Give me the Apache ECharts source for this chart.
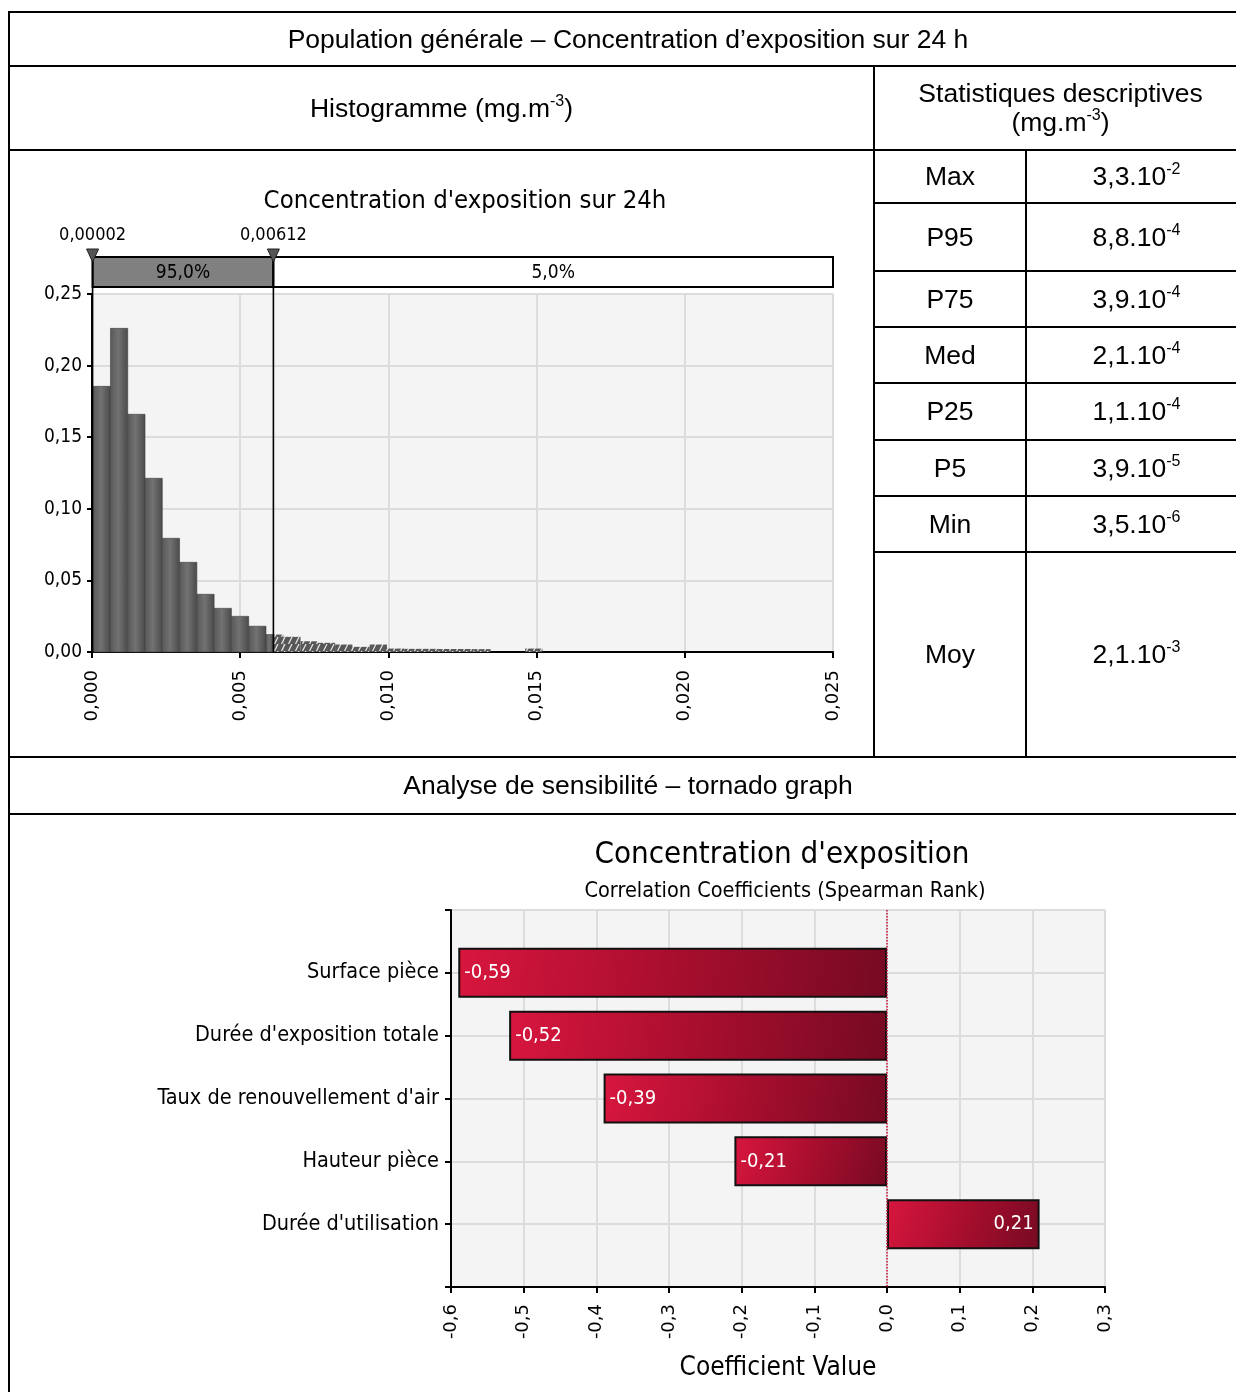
<!DOCTYPE html>
<html><head><meta charset="utf-8">
<script src="https://cdn.jsdelivr.net/npm/echarts@6/dist/echarts.min.js"></script>
<style>
html,body{margin:0;padding:0;background:#fff;}
#page{position:relative;width:1236px;height:1392px;overflow:hidden;font-family:'Liberation Sans',Arial,sans-serif;color:#000;}
#chart{position:absolute;left:0;top:0;width:1236px;height:1392px;}
.hl{position:absolute;height:2px;background:#000;}
.vl{position:absolute;width:2px;background:#000;}
.cell{position:absolute;display:flex;flex-direction:column;align-items:center;justify-content:center;text-align:center;font-size:26.5px;line-height:29px;white-space:nowrap;}
sup{font-size:16px;line-height:0;vertical-align:0;position:relative;top:-11px;}
</style></head>
<body><div id="page"><div id="chart"></div><div id="table"></div></div>
<script>
// ---------------- data ----------------
const pageTitle = 'Population générale – Concentration d’exposition sur 24 h';
const histHeader = 'Histogramme (mg.m<sup>-3</sup>)';
const statsHeader = ['Statistiques descriptives', '(mg.m<sup>-3</sup>)'];
const sensHeader = 'Analyse de sensibilité – tornado graph';

const statLabels = ['Max', 'P95', 'P75', 'Med', 'P25', 'P5', 'Min', 'Moy'];
const statMantissa = ['3,3', '8,8', '3,9', '2,1', '1,1', '3,9', '3,5', '2,1'];
const statExponent = ['-2', '-4', '-4', '-4', '-4', '-5', '-6', '-3'];

const histTitle = "Concentration d'exposition sur 24h";
const binStart = 0.00004;
const binWidth = 0.000583;
const binHeights = [0.1855, 0.226, 0.166, 0.1213, 0.0794, 0.0626, 0.0403, 0.0305, 0.0249, 0.018,
  0.0122, 0.0106, 0.0075, 0.0064, 0.0052, 0.0036, 0.0052, 0.0024, 0.0022, 0.0022,
  0.0021, 0.0021, 0.0020, 0, 0, 0.0024];
const markerValues = [0.00002, 0.00612];
const markerLabels = ['0,00002', '0,00612'];
const bandLabels = ['95,0%', '5,0%'];
const histXMax = 0.025, histXStep = 0.005;
const histYMax = 0.25, histYStep = 0.05;

const tornadoTitle = "Concentration d'exposition";
const tornadoSubtitle = 'Correlation Coefficients (Spearman Rank)';
const tornadoAxisName = 'Coefficient Value';
const factors = ['Surface pièce', "Durée d'exposition totale", "Taux de renouvellement d'air", 'Hauteur pièce', "Durée d'utilisation"];
const coefficients = [-0.59, -0.52, -0.39, -0.21, 0.21];
const tornadoMin = -0.6, tornadoMax = 0.3, tornadoStep = 0.1;

// ---------------- table (HTML) ----------------
const T = document.getElementById('table');
function hl(x, y, w) { const d = document.createElement('div'); d.className = 'hl'; d.style.left = x + 'px'; d.style.top = (y - 1) + 'px'; d.style.width = w + 'px'; T.appendChild(d); }
function vl(x, y, h) { const d = document.createElement('div'); d.className = 'vl'; d.style.left = (x - 1) + 'px'; d.style.top = y + 'px'; d.style.height = h + 'px'; T.appendChild(d); }
function cell(x, y, w, h, lines) { const d = document.createElement('div'); d.className = 'cell'; d.style.left = x + 'px'; d.style.top = y + 'px'; d.style.width = w + 'px'; d.style.height = h + 'px'; d.innerHTML = lines.map(s => '<div>' + s + '</div>').join(''); T.appendChild(d); }
[12, 66, 150, 757, 814].forEach(y => hl(8, y, 1250));
const rowEdges = [150, 203, 271, 327, 383, 440, 496, 552, 757];
rowEdges.slice(1, -1).forEach(y => hl(874, y, 380));
vl(9, 11, 1400); vl(874, 66, 691); vl(1026, 150, 607);
cell(9, 12, 1238, 54, [pageTitle]);
cell(9, 66, 865, 84, [histHeader]);
cell(874, 66, 373, 84, statsHeader);
statLabels.forEach((l, i) => {
  const y0 = rowEdges[i], y1 = rowEdges[i + 1];
  cell(874, y0, 152, y1 - y0, [l]);
  cell(1026, y0, 221, y1 - y0, [statMantissa[i] + '.10<sup>' + statExponent[i] + '</sup>']);
});
cell(9, 757, 1238, 57, [sensHeader]);

// ---------------- chart ----------------
const COND = "'DejaVu Sans Condensed','Liberation Sans Narrow',sans-serif";
const WIDE = "'DejaVu Sans',Verdana,sans-serif";
const chart = echarts.init(document.getElementById('chart'));

// hatch pattern
const pc = document.createElement('canvas'); pc.width = 7; pc.height = 7;
const g = pc.getContext('2d');
g.fillStyle = '#575757'; g.fillRect(0, 0, 7, 7);
g.strokeStyle = 'rgba(255,255,255,0.85)'; g.lineWidth = 1.2;
g.beginPath(); g.moveTo(1.5, 7); g.lineTo(5, 0); g.stroke();
const hatch = { image: pc, repeat: 'repeat' };

const histData = [];
binHeights.forEach((h, i) => {
  const x0 = binStart + i * binWidth, x1 = x0 + binWidth, cut = markerValues[1];
  if (h <= 0) return;
  if (x1 <= cut) histData.push([x0, x1, h, 0]);
  else if (x0 >= cut) histData.push([x0, x1, h, 1]);
  else { histData.push([x0, cut, h, 0]); histData.push([cut, x1, h, 1]); }
});

const grayGrad = new echarts.graphic.LinearGradient(0, 0, 1, 0, [
  { offset: 0, color: '#585858' }, { offset: 0.45, color: '#727272' }, { offset: 1, color: '#4a4a4a' }]);

const comma = (v, d) => (Math.abs(v) < 1e-9 ? 0 : v).toFixed(d).replace('.', ',');

const option = {
  animation: false,
  title: [
    { text: histTitle, left: 460, top: 183, textAlign: 'center', textStyle: { fontFamily: COND, fontSize: 25.5, fontWeight: 'normal', color: '#000' } },
    { text: tornadoTitle, left: 777, top: 834, textAlign: 'center', textStyle: { fontFamily: COND, fontSize: 31, fontWeight: 'normal', color: '#000' } },
    { text: tornadoSubtitle, left: 780, top: 875, textAlign: 'center', textStyle: { fontFamily: COND, fontSize: 21.5, fontWeight: 'normal', color: '#000' } }
  ],
  grid: [
    { left: 92, top: 294, width: 741, height: 358, show: true, backgroundColor: '#f4f4f4', borderWidth: 0 },
    { left: 451, top: 910, width: 654, height: 377, show: true, backgroundColor: '#f4f4f4', borderWidth: 0 }
  ],
  xAxis: [
    { type: 'value', gridIndex: 0, min: 0, max: histXMax, interval: histXStep,
      axisLine: { show: true, onZero: false, lineStyle: { color: '#000', width: 2 } },
      axisTick: { show: true, length: 6, lineStyle: { color: '#000', width: 2 } },
      splitLine: { show: true, lineStyle: { color: '#dcdcdc', width: 2 } },
      axisLabel: { rotate: 90, margin: 18, fontFamily: WIDE, fontSize: 18, color: '#000', formatter: v => comma(v, 3) } },
    { type: 'value', gridIndex: 1, min: tornadoMin, max: tornadoMax, interval: tornadoStep,
      name: tornadoAxisName, nameLocation: 'middle', nameGap: 68,
      nameTextStyle: { fontFamily: COND, fontSize: 26, color: '#000' },
      axisLine: { show: true, onZero: false, lineStyle: { color: '#000', width: 2 } },
      axisTick: { show: true, length: 6, lineStyle: { color: '#000', width: 2 } },
      splitLine: { show: true, lineStyle: { color: '#dcdcdc', width: 2 } },
      axisLabel: { rotate: 90, margin: 17, fontFamily: WIDE, fontSize: 18, color: '#000', formatter: v => comma(v, 1) } }
  ],
  yAxis: [
    { type: 'value', gridIndex: 0, min: 0, max: histYMax, interval: histYStep,
      axisLine: { show: true, onZero: false, lineStyle: { color: '#000', width: 2 } },
      axisTick: { show: true, length: 5, lineStyle: { color: '#000', width: 2 } },
      splitLine: { show: true, lineStyle: { color: '#dcdcdc', width: 2 } },
      axisLabel: { margin: 10, fontFamily: COND, fontSize: 19, color: '#000', formatter: v => comma(v, 2) } },
    { type: 'category', gridIndex: 1, inverse: true, boundaryGap: false, data: [''].concat(factors, ['']),
      axisLine: { show: true, onZero: false, lineStyle: { color: '#000', width: 2 } },
      axisTick: { show: true, length: 6, lineStyle: { color: '#000', width: 2 } },
      splitLine: { show: true, lineStyle: { color: '#dcdcdc', width: 2 } },
      axisLabel: { margin: 12, fontFamily: COND, fontSize: 21.5, color: '#000' } }
  ],
  series: [
    { type: 'custom', xAxisIndex: 0, yAxisIndex: 0, clip: false, data: histData,
      encode: { x: [0, 1], y: 2 },
      renderItem: (params, api) => {
        const p0 = api.coord([api.value(0), api.value(2)]), p1 = api.coord([api.value(1), 0]);
        return { type: 'rect', shape: { x: p0[0], y: p0[1], width: p1[0] - p0[0], height: p1[1] - p0[1] },
          style: { fill: api.value(3) ? hatch : grayGrad, stroke: api.value(3) ? null : '#404040', lineWidth: 0.6 } };
      } },
    { type: 'custom', xAxisIndex: 0, yAxisIndex: 0, clip: false, data: [[markerValues[0], markerValues[1]]], z: 5,
      renderItem: (params, api) => {
        const cs = params.coordSys;
        const xl = api.coord([markerValues[0], 0])[0], xh = api.coord([markerValues[1], 0])[0];
        const xr = api.coord([histXMax, 0])[0], y0 = api.coord([0, 0])[1];
        const bt = cs.y - 37, bb = cs.y - 7;
        const ch = [];
        ch.push({ type: 'rect', shape: { x: xl, y: bt, width: xh - xl, height: bb - bt }, style: { fill: '#808080', stroke: '#000', lineWidth: 2 } });
        ch.push({ type: 'rect', shape: { x: xh, y: bt, width: xr - xh, height: bb - bt }, style: { fill: '#fff', stroke: '#000', lineWidth: 2 } });
        ch.push({ type: 'text', style: { text: bandLabels[0], x: (xl + xh) / 2, y: (bt + bb) / 2 + 1, align: 'center', verticalAlign: 'middle', font: '19px ' + COND, fill: '#000' } });
        ch.push({ type: 'text', style: { text: bandLabels[1], x: (xh + xr) / 2, y: (bt + bb) / 2 + 1, align: 'center', verticalAlign: 'middle', font: '19px ' + COND, fill: '#000' } });
        [xl, xh].forEach((x, i) => {
          ch.push({ type: 'line', shape: { x1: x, y1: bt, x2: x, y2: y0 }, style: { stroke: '#000', lineWidth: 1.6 } });
          ch.push({ type: 'polygon', shape: { points: [[x - 6, bt - 8], [x + 6, bt - 8], [x, bt + 5]] }, style: { fill: '#555', stroke: '#222', lineWidth: 1 } });
          ch.push({ type: 'text', style: { text: markerLabels[i], x: x, y: bt - 22, align: 'center', verticalAlign: 'middle', font: '18px ' + COND, fill: '#000' } });
        });
        return { type: 'group', children: ch };
      } },
    { type: 'bar', xAxisIndex: 1, yAxisIndex: 1, barWidth: 50, z: 3,
      data: ['-'].concat(coefficients.map(v => ({ value: v, label: { position: v < 0 ? 'insideLeft' : 'insideRight' } })), ['-']),
      itemStyle: {
        color: new echarts.graphic.LinearGradient(0, 0, 1, 1, [{ offset: 0, color: '#d8163e' }, { offset: 0.5, color: '#a80e2e' }, { offset: 1, color: '#760a22' }]),
        borderColor: '#111', borderWidth: 2 },
      label: { show: true, color: '#fff', fontFamily: COND, fontSize: 20, distance: 6, formatter: p => comma(p.value, 2) },
      markLine: { silent: true, symbol: ['none', 'none'], label: { show: false },
        lineStyle: { color: '#d0103a', type: 'dotted', width: 1.5 }, data: [{ xAxis: 0 }] } }
  ]
};
chart.setOption(option);
</script></body></html>
